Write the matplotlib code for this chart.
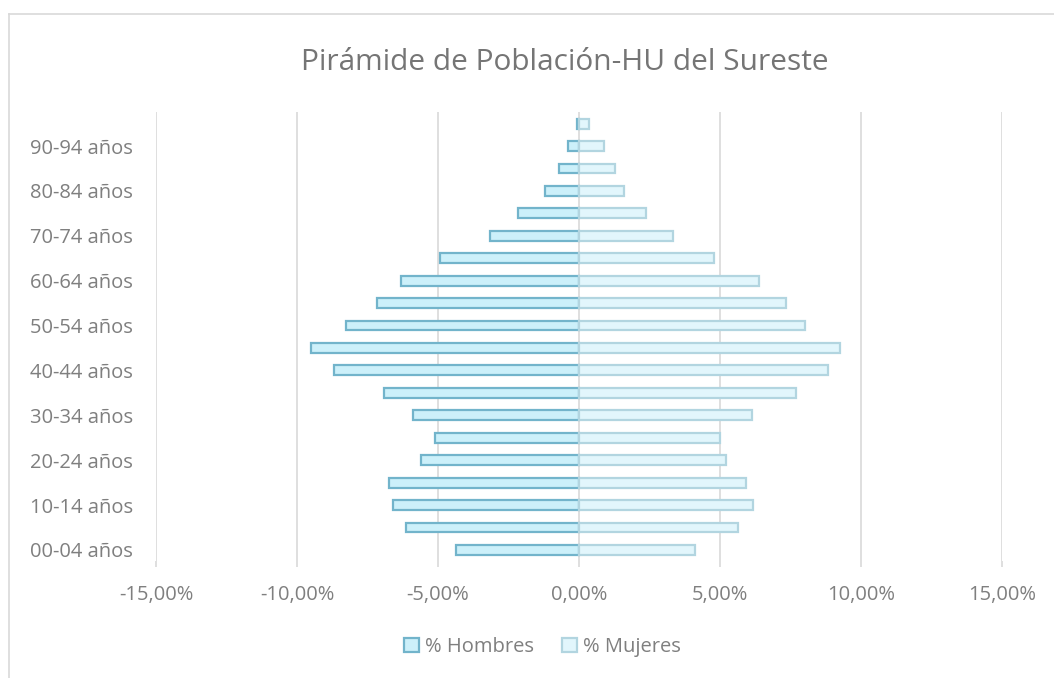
import matplotlib
matplotlib.use('Agg')
from matplotlib import pyplot as plt
from matplotlib.lines import Line2D
from matplotlib.ticker import FuncFormatter

plt.rcParams['font.family'] = ['Open Sans', 'DejaVu Sans']

grupos = ['00-04 años', '05-09 años', '10-14 años', '15-19 años', '20-24 años',
          '25-29 años', '30-34 años', '35-39 años', '40-44 años', '45-49 años',
          '50-54 años', '55-59 años', '60-64 años', '65-69 años', '70-74 años',
          '75-79 años', '80-84 años', '85-89 años', '90-94 años', '95+ años']
hombres = [-4.37, -6.13, -6.60, -6.73, -5.61, -5.12, -5.87, -6.93, -8.69, -9.51,
           -8.28, -7.18, -6.31, -4.93, -3.16, -2.16, -1.21, -0.70, -0.39, -0.08]
mujeres = [4.12, 5.65, 6.18, 5.92, 5.20, 4.99, 6.12, 7.68, 8.84, 9.27,
           8.03, 7.34, 6.39, 4.80, 3.35, 2.39, 1.58, 1.29, 0.87, 0.34]

gris = '#7f7f7f'
fig = plt.figure(figsize=(10.54, 6.78), dpi=100)
ax = fig.add_axes([0.148, 0.1723, 0.8027, 0.662])

pos = range(len(grupos))
ax.barh(pos, hombres, height=0.44, color='#ccf0fa', edgecolor='#72b4cb',
        linewidth=1.6, label='% Hombres', zorder=2)
ax.barh(pos, mujeres, height=0.44, color='#e2f6fc', edgecolor='#b2d5e0',
        linewidth=1.6, label='% Mujeres', zorder=2)

ax.set_xlim(-15, 15)
ax.set_ylim(-0.5, len(grupos) - 0.5)
ax.set_xticks([-15, -10, -5, 0, 5, 10, 15])
ax.xaxis.set_major_formatter(FuncFormatter(lambda v, p: f'{v:.2f}%'.replace('.', ',')))
ax.set_yticks(list(pos)[::2])
ax.set_yticklabels(grupos[::2])
ax.grid(axis='x', color='#d9d9d9', linewidth=1.2, zorder=1)
ax.set_axisbelow(True)
for s in ax.spines.values():
    s.set_visible(False)
ax.tick_params(axis='y', length=0, pad=16.5, labelsize=14.5, labelcolor=gris)
ax.tick_params(axis='x', length=4, width=1.2, color='#d9d9d9', pad=13.5,
               labelsize=14.5, labelcolor=gris)

fig.text(0.5356, 1 - 62 / 678, 'Pirámide de Población-HU del Sureste',
         ha='center', va='center', fontsize=21.5, color='#757575')

fig.legend(loc='center', bbox_to_anchor=(0.5147, 1 - 647 / 678), ncol=2,
           frameon=False, fontsize=14.5, labelcolor=gris, handlelength=0.75,
           handleheight=0.75, handletextpad=0.3, columnspacing=1.4)

# marco del gráfico (solo se ven los bordes superior e izquierdo)
fig.add_artist(Line2D([8.5 / 1054, 1], [1 - 13.5 / 678] * 2, color='#d9d9d9', lw=1.2))
fig.add_artist(Line2D([8.5 / 1054] * 2, [0, 1 - 13.5 / 678], color='#d9d9d9', lw=1.2))

fig.savefig('out.png', dpi=100)
